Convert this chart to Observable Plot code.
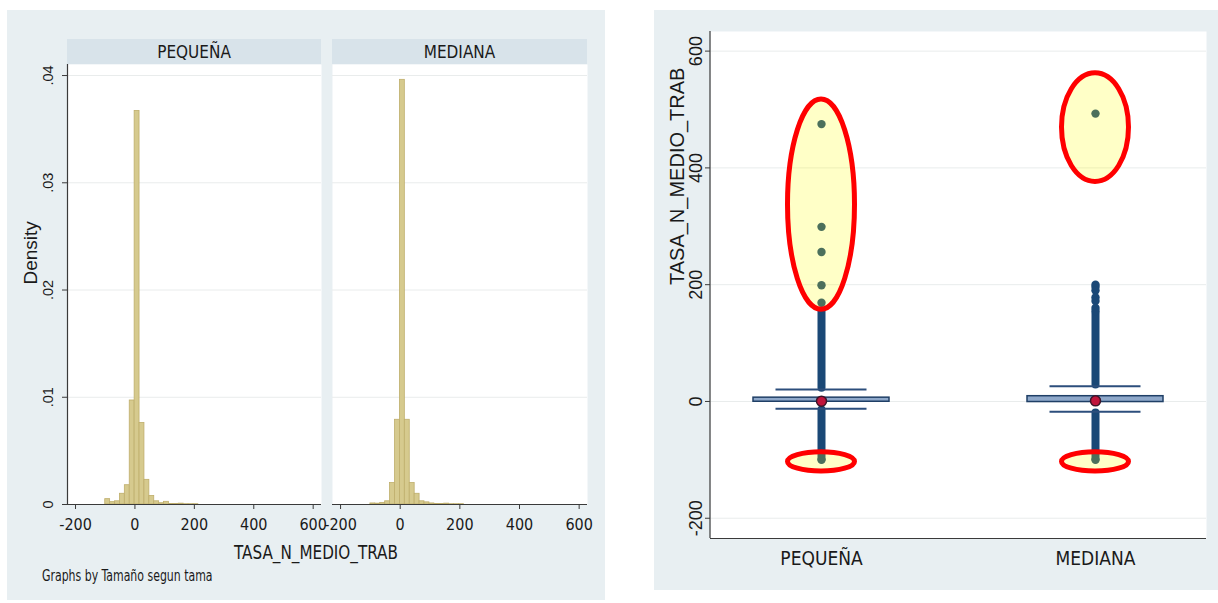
<!DOCTYPE html>
<html>
<head>
<meta charset="utf-8">
<script src="https://cdn.jsdelivr.net/npm/d3@7"></script>
<script src="https://cdn.jsdelivr.net/npm/@observablehq/plot@0.6"></script>
<style>
  body { margin: 0; background: #ffffff; }
  #wrap { position: relative; width: 1218px; height: 603px; overflow: hidden; background: #ffffff; }
  .abs { position: absolute; }
  .bg { background: #e8eff2; }
  .hdr { background: #d8e3ea; display: flex; align-items: center; justify-content: center;
         font-family: 'Liberation Sans Narrow', 'Arial Narrow', 'DejaVu Sans Condensed', sans-serif;
         font-size: 17px; color: #1a1a1a; }
  .note { font-family: 'Liberation Sans Narrow', 'Arial Narrow', 'DejaVu Sans Condensed', sans-serif; color: #1a1a1a; white-space: nowrap; }
  #wrap svg { position: absolute; left: 0; top: 0; overflow: visible; }
</style>
</head>
<body>
<div id="wrap">
  <div class="abs bg" style="left:7px;top:10px;width:598px;height:590px;"></div>
  <div class="abs bg" style="left:654px;top:10px;width:564px;height:580px;"></div>
  <div id="h0" class="abs hdr" style="left:67px;top:39px;width:254px;height:25px;"></div>
  <div id="h1" class="abs hdr" style="left:332px;top:39px;width:255px;height:25px;"></div>
  <div id="xtitle" class="abs note" style="left:116px;top:540px;width:400px;text-align:center;font-size:19px;line-height:24px;transform:scaleX(0.89);transform-origin:200px 12px;"></div>
  <div id="byNote" class="abs note" style="left:42px;top:567px;font-size:16px;line-height:18px;transform:scaleX(0.76);transform-origin:0 9px;"></div>
</div>
<script>
// ---------- data ----------
const categories = ["PEQUEÑA", "MEDIANA"];
const variableName = "TASA_N_MEDIO_TRAB";
const densityLabel = "Density";
const byNote = "Graphs by Tamaño segun tama";

// histogram (left panel)
const binStart = [-100, -83.5, -67, -50.5, -34, -17.5, -1, 15.5, 32, 48.5, 65, 81.5, 98, 114.5, 131, 147.5, 164, 180.5, 197];
const binWidth = 16.5;
const densityPequena = [0.0005, 0.00022, 0.0003, 0.001, 0.0018, 0.0097, 0.0367, 0.0076, 0.0023, 0.0008, 0.0003, 0.00012, 0.00025, 0.00005, 0.00004, 0.00008, 0.00003, 0.00003, 0.00003];
const densityMediana = [0.0001, 0.00008, 0.00015, 0.0003, 0.002, 0.0079, 0.0396, 0.0079, 0.002, 0.001, 0.0003, 0.0002, 0.0001, 0.00005, 0.00005, 0.00008, 0.00003, 0.00003, 0.00003];
const histXTicks = [-200, 0, 200, 400, 600];
const histYTicks = [0, 0.01, 0.02, 0.03, 0.04];

// box plot (right panel)
const boxQ1 = [-0.5, -1];
const boxQ3 = [6.5, 9];
const boxMedian = [0.5, 1];
const whiskerLow = [-12.5, -17.7];
const whiskerHigh = [20.6, 26];
const denseUpperTop = [155, 150];     // dense run of outside values, upper side
const denseLowerBottom = [-100, -100]; // dense run of outside values, lower side
const outliersPequena = [475, 299, 256, 199, 169, -100];
const outliersMediana = [493, 200, 196, 190, 178, 172, 160, 155, -100];
const boxYTicks = [-200, 0, 200, 400, 600];

// highlight ellipses (annotation)
const ellipseCategory = ["PEQUEÑA", "MEDIANA", "PEQUEÑA", "MEDIANA"];
const ellipseCenter = [337, 469, -103.5, -103.5];
const ellipseHalfSpan = [180, 93, 16.5, 16.5];

// ---------- styling ----------
const NARROW = "'Liberation Sans Narrow', 'Arial Narrow', 'DejaVu Sans Condensed', sans-serif";
const REGULAR = "'Liberation Sans', Arial, sans-serif";
const BAR_FILL = "#d6ca8e";
const BAR_STROKE = "#bfae6c";
const AXIS = "#3a3a3a";
const GRID = "#e9ecec";
const DOT = "#1a4876";

document.getElementById("h0").textContent = categories[0];
document.getElementById("h1").textContent = categories[1];
document.getElementById("xtitle").textContent = variableName;
document.getElementById("byNote").textContent = byNote;

const wrap = document.getElementById("wrap");
const histXDomain = [-227, 628];
const histYDomain = [0, 0.04103];
const fmtDensity = d => d === 0 ? "0" : d3.format(".2f")(d).replace(/^0/, "");

function histPlot(densities, showY, left, right, width) {
  const bins = binStart.map((s, i) => ({x1: s, x2: s + binWidth, d: densities[i]}));
  const marks = [
    Plot.frame({fill: "white", stroke: "none"}),
    Plot.gridY(histYTicks.slice(1), {stroke: GRID, strokeOpacity: 1}),
    Plot.rectY(bins, {x1: "x1", x2: "x2", y: "d", fill: BAR_FILL, stroke: BAR_STROKE, strokeWidth: 0.8}),
    Plot.ruleY([histYDomain[0]], {stroke: AXIS, strokeWidth: 1.2}),
    Plot.axisX({ticks: histXTicks, tickFormat: d => String(d), tickSize: 5, tickPadding: 9,
                fontSize: 16, fontFamily: NARROW, stroke: AXIS, fill: "#1a1a1a"})
  ];
  if (showY) {
    marks.push(
      Plot.ruleX([histXDomain[0]], {stroke: AXIS, strokeWidth: 1.2}),
      Plot.axisY({ticks: histYTicks, tickFormat: fmtDensity, tickRotate: -90, tickSize: 5, tickPadding: 10,
                  fontSize: 14.5, fontFamily: REGULAR, stroke: AXIS, fill: "#1a1a1a", label: null}),
      Plot.text([densityLabel], {frameAnchor: "left", rotate: -90, dx: -37, fontSize: 19,
                                 fontFamily: REGULAR, fill: "#1a1a1a"})
    );
  }
  return Plot.plot({
    width, height: 540,
    marginLeft: left, marginRight: width - right, marginTop: 64, marginBottom: 36,
    style: {background: "transparent", overflow: "visible", fontFamily: REGULAR},
    x: {domain: histXDomain, axis: null},
    y: {domain: histYDomain, axis: null},
    marks
  });
}

wrap.appendChild(histPlot(densityPequena, true, 67, 321, 340));
wrap.appendChild(histPlot(densityMediana, false, 332, 587, 600));

// ---------- right panel: box plot ----------
const stripData = [];
const capData = [];
const boxData = [];
categories.forEach((c, i) => {
  stripData.push({cat: c, lo: whiskerHigh[i] + 2, hi: denseUpperTop[i]});
  stripData.push({cat: c, lo: denseLowerBottom[i], hi: whiskerLow[i] - 2});
  capData.push({cat: c, v: whiskerLow[i]}, {cat: c, v: whiskerHigh[i]});
  boxData.push({cat: c, q1: boxQ1[i], q3: boxQ3[i], med: boxMedian[i]});
});
const outlierData = [
  ...outliersPequena.map(v => ({cat: categories[0], v})),
  ...outliersMediana.map(v => ({cat: categories[1], v}))
];

function leftAxisLine(index, scales, values, dim) {
  const g = d3.create("svg:g");
  g.append("line")
    .attr("x1", dim.marginLeft).attr("x2", dim.marginLeft)
    .attr("y1", dim.marginTop).attr("y2", dim.height - dim.marginBottom)
    .attr("stroke", AXIS).attr("stroke-width", 1.2);
  return g.node();
}

function highlightEllipses(index, scales, values, dim) {
  const g = d3.create("svg:g");
  const bw = typeof scales.x.bandwidth === "function" ? scales.x.bandwidth() : 0;
  ellipseCategory.forEach((c, i) => {
    const cx = scales.x(c) + bw / 2;
    const cy = scales.y(ellipseCenter[i]);
    const ry = Math.abs(scales.y(ellipseCenter[i] + ellipseHalfSpan[i]) - cy);
    g.append("ellipse")
      .attr("cx", cx).attr("cy", cy).attr("rx", 33.5).attr("ry", ry)
      .attr("fill", "#ffff00").attr("fill-opacity", 0.22)
      .attr("stroke", "#ff0000").attr("stroke-width", 5);
  });
  return g.node();
}

const boxYDomain = [-234.7, 633.6];
const boxPlot = Plot.plot({
  width: 1218, height: 603,
  marginLeft: 710, marginRight: 12, marginTop: 31, marginBottom: 65,
  style: {background: "transparent", overflow: "visible", fontFamily: REGULAR},
  x: {type: "band", domain: categories, paddingInner: 0.502, paddingOuter: 0.153, axis: null},
  y: {domain: boxYDomain, axis: null},
  marks: [
    Plot.frame({fill: "white", stroke: "none"}),
    Plot.gridY(boxYTicks, {stroke: GRID, strokeOpacity: 1}),
    Plot.ruleY([boxYDomain[0]], {stroke: AXIS, strokeWidth: 1.2}),
    leftAxisLine,
    Plot.axisY({ticks: boxYTicks, tickFormat: d => String(d), tickRotate: -90, tickSize: 5,
                fontSize: 18, fontFamily: REGULAR, stroke: AXIS, fill: "#1a1a1a", label: null}),
    Plot.text([variableName], {frameAnchor: "left", rotate: -90, dx: -33, fontSize: 20,
                               fontFamily: REGULAR, fill: "#1a1a1a"}),
    Plot.axisX({tickSize: 0, tickPadding: 13, fontSize: 19, fontFamily: NARROW, fill: "#1a1a1a", label: null}),
    Plot.ruleX(stripData, {x: "cat", y1: "lo", y2: "hi", stroke: DOT, strokeWidth: 8, strokeLinecap: "round"}),
    Plot.tickY(capData, {x: "cat", y: "v", stroke: "#2c4e7c", strokeWidth: 2, insetLeft: 22.5, insetRight: 22.5}),
    Plot.barY(boxData, {x: "cat", y1: "q1", y2: "q3", fill: "#8ea8ca", stroke: "#1f3f66", strokeWidth: 1.5}),
    Plot.dot(outlierData, {x: "cat", y: "v", r: 4.2, fill: DOT, stroke: "none"}),
    Plot.dot(boxData, {x: "cat", y: "med", r: 5, fill: "#c0143c", stroke: "#3e1428", strokeWidth: 1.5}),
    highlightEllipses
  ]
});
wrap.appendChild(boxPlot);
</script>
</body>
</html>
